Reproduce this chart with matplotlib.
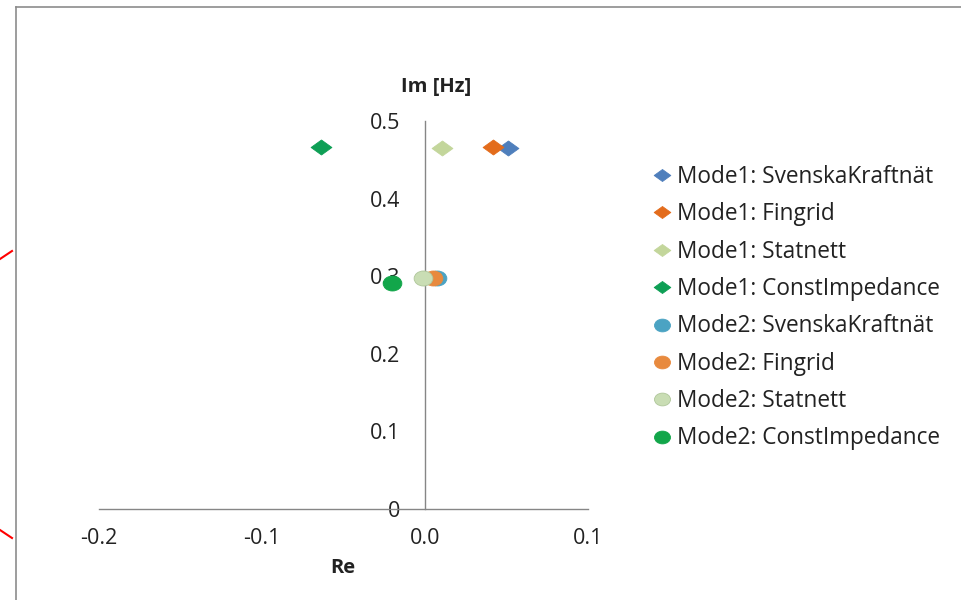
import matplotlib
matplotlib.use("Agg")
import matplotlib.pyplot as plt
from matplotlib.path import Path
from matplotlib.lines import Line2D
import numpy as np

plt.rcParams['font.family'] = ['Open Sans', 'DejaVu Sans']

# ---- data ----
series_labels = [
    "Mode1: SvenskaKraftnät", "Mode1: Fingrid", "Mode1: Statnett", "Mode1: ConstImpedance",
    "Mode2: SvenskaKraftnät", "Mode2: Fingrid", "Mode2: Statnett", "Mode2: ConstImpedance",
]
re_vals = [0.051, 0.042, 0.0105, -0.064, 0.0075, 0.005, -0.001, -0.020]
im_vals = [0.465, 0.466, 0.465, 0.466, 0.298, 0.298, 0.298, 0.291]
colors = ["#4F7FBC", "#E36C1C", "#C3D69B", "#0E9F55",
          "#4BA3C3", "#E88A3E", "#C9DDB4", "#12A64A"]
edge_colors = ["#4F7FBC", "#E36C1C", "#C3D69B", "#0E9F55",
               "#4BA3C3", "#E88A3E", "#AFC69A", "#12A64A"]
kinds = ["diamond"] * 4 + ["circle"] * 4
xticks = [-0.2, -0.1, 0.0, 0.1]
xticklabels = ["-0.2", "-0.1", "0.0", "0.1"]
yticks = [0, 0.1, 0.2, 0.3, 0.4, 0.5]
yticklabels = ["0", "0.1", "0.2", "0.3", "0.4", "0.5"]

# stretched markers (the reference is horizontally stretched)
diamond = Path([(-1, 0), (0, 0.72), (1, 0), (0, -0.72), (-1, 0)],
               [Path.MOVETO, Path.LINETO, Path.LINETO, Path.LINETO, Path.CLOSEPOLY])
uc = Path.unit_circle()
ellipse = Path(uc.vertices * np.array([1.0, 0.8]), uc.codes)
marker_for = {"diamond": diamond, "circle": ellipse}

W, H = 961, 600
fig = plt.figure(figsize=(W / 100, H / 100), dpi=100)

# axes placement in pixels
x0p, x1p = 99, 588
y0p, y1p = 509, 121
ax = fig.add_axes([x0p / W, 1 - y0p / H, (x1p - x0p) / W, (y0p - y1p) / H])
ax.set_xlim(-0.2, 0.1)
ax.set_ylim(0, 0.5)
ax.patch.set_alpha(0)

for s in ["top", "right"]:
    ax.spines[s].set_visible(False)
ax.spines["left"].set_position(("data", 0))
ax.spines["bottom"].set_position(("data", 0))
for s in ["left", "bottom"]:
    ax.spines[s].set_color("#868686")
    ax.spines[s].set_linewidth(1.0)

ax.set_xticks(xticks)
ax.set_xticklabels(xticklabels)
ax.set_yticks(yticks)
ax.set_yticklabels(yticklabels)
ax.tick_params(axis="both", length=0, labelsize=15.5, colors="#222222")
ax.tick_params(axis="x", pad=14)
ax.tick_params(axis="y", pad=18)

handles = []
for lab, xv, yv, c, ec, k in zip(series_labels, re_vals, im_vals, colors, edge_colors, kinds):
    ms = 15 if k == "diamond" else 13.5
    ax.plot([xv], [yv], linestyle="none", marker=marker_for[k], markersize=ms,
            markerfacecolor=c, markeredgecolor=ec, markeredgewidth=0.6,
            clip_on=False, zorder=3)
    handles.append(Line2D([], [], linestyle="none", marker=marker_for[k],
                          markersize=12 if k == "diamond" else 11.5,
                          markerfacecolor=c, markeredgecolor=ec, markeredgewidth=0.6,
                          label=lab))

# axis titles
fig.text(436 / W, 1 - 87 / H, "Im [Hz]", ha="center", va="center",
         fontsize=14.5, fontweight="bold", color="#222222")
fig.text(343 / W, 1 - 568 / H, "Re", ha="center", va="center",
         fontsize=14.5, fontweight="bold", color="#222222")

leg = fig.legend(handles=handles, loc="upper left",
                 bbox_to_anchor=(654 / W, 1 - 165 / H), frameon=False,
                 fontsize=16.3, labelspacing=0.59, handlelength=0.75,
                 handletextpad=0.28, borderaxespad=0, borderpad=0)
for t in leg.get_texts():
    t.set_color("#222222")

# outer chart border
fig.add_artist(Line2D([16 / W, 16 / W], [0, 1 - 7 / H], color="#8c8c8c", lw=1.2,
                      transform=fig.transFigure))
fig.add_artist(Line2D([16 / W, 1], [1 - 7 / H, 1 - 7 / H], color="#8c8c8c", lw=1.2,
                      transform=fig.transFigure))
# red annotation strokes at the left edge
fig.add_artist(Line2D([0, 12 / W], [1 - 259 / H, 1 - 251 / H], color="red", lw=1.5,
                      transform=fig.transFigure))
fig.add_artist(Line2D([0, 12 / W], [1 - 530 / H, 1 - 538 / H], color="red", lw=1.5,
                      transform=fig.transFigure))

fig.savefig("out.png", dpi=100)
